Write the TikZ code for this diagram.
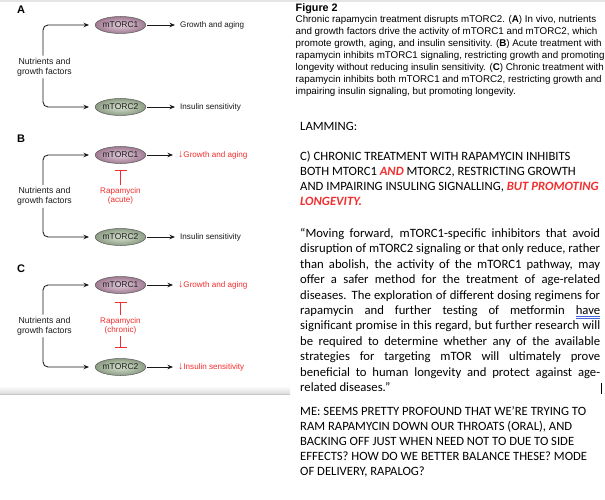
\documentclass[tikz,border=0pt]{standalone}
\usepackage{fontspec}
\setmainfont{Liberation Sans}
\newfontfamily\calib{Carlito}
\usetikzlibrary{arrows.meta,shapes.geometric,calc}
\definecolor{rred}{RGB}{242,45,45}
\definecolor{ulblue}{RGB}{70,100,220}
\definecolor{pinkin}{RGB}{226,206,219}
\definecolor{pinkout}{RGB}{160,122,146}
\definecolor{greenin}{RGB}{216,225,208}
\definecolor{greenout}{RGB}{140,157,132}
\newlength\fitw
\newcommand\fitsize[4]{\setbox0\hbox{#2\fontsize{10pt}{12pt}\selectfont #3}\fitw=\wd0\relax\pgfmathsetmacro#1{10*#4/\fitw}}
\AtBeginDocument{%
\fitsize{\capsz}{\relax}{promote growth, aging, and insulin sensitivity. (\textbf{B}) Acute treatment with}{306}%
\fitsize{\rsz}{\calib}{ME: SEEMS PRETTY PROFOUND THAT WE’RE TRYING TO}{286}%
\fitsize{\qsz}{\calib}{significant promise in this regard, but further research will}{298}%
}
\newcommand\labfont{\fontsize{8.1pt}{9pt}\selectfont}
\newcommand\nutfont{\fontsize{8.7pt}{10pt}\selectfont}
\newcommand\torfont{\fontsize{8.5pt}{9pt}\selectfont}
\newcommand\capfont{\fontsize{\capsz pt}{12pt}\selectfont}
\newcommand\rfont{\calib\fontsize{\rsz pt}{15pt}\selectfont}
\newcommand\qfont{\calib\fontsize{\qsz pt}{15pt}\selectfont}
\newcommand\dn{{\fontsize{10.5pt}{10pt}\selectfont ↓}}
\newcommand\gramul[1]{\setbox2\hbox{#1}\rlap{\color{ulblue}\rule[-2.2pt]{\wd2}{0.5pt}\hspace*{-\wd2}\rule[-3.5pt]{\wd2}{0.5pt}}\box2}
\newcommand\redit[1]{\textcolor{rred}{\bfseries\itshape #1}}
\tikzset{
  panel/.style={font=\fontsize{11pt}{12pt}\selectfont\bfseries, inner sep=0pt},
  lbl/.style={font=\labfont, inner sep=0pt, anchor=west, text=black!90},
  rlbl/.style={font=\labfont, inner sep=0pt, anchor=west, text=rred},
  nut/.style={font=\nutfont, align=center, inner sep=2pt, text=black!90},
  rap/.style={font=\labfont, align=center, inner sep=2.5pt, text=rred},
  tor1/.style={ellipse, minimum width=45pt, minimum height=17pt, inner sep=0pt,
    draw=black!65, line width=0.5pt, inner color=pinkin, outer color=pinkout,
    font=\torfont, text=black!88},
  tor2/.style={tor1, inner color=greenin, outer color=greenout},
  arr/.style={-{Stealth[length=5.5pt,width=4.5pt]}, line width=0.85pt, black!90},
  feed/.style={arr, rounded corners=5pt, shorten >=6pt},
  outarr/.style={arr, shorten >=5pt, shorten <=1pt},
  inh/.style={-{Bar[width=12pt,line width=1pt]}, line width=0.9pt, rred},
  capline/.style={anchor=base west, inner sep=0pt, font=\capfont},
  rline/.style={anchor=base west, inner sep=0pt, font=\rfont},
  qline/.style={anchor=base west, inner sep=0pt, font=\qfont}
}
\begin{document}
\begin{tikzpicture}[x=1pt,y=-1pt]
\useasboundingbox (0,0) rectangle (605,500);
\fill[white] (0,0) rectangle (605,500);
\fill[black!10] (0,0) rectangle (605,2.5);
% bottom shadow of figure panel
\shade[top color=white, bottom color=black!14] (0,386) rectangle (290,394);
\draw[black!22, line width=1pt] (0,394.5) -- (290,394.5);

% ---------- Panel A ----------
\node[panel] (lA) at (21,10) {A};
\node[tor1] (m1A) at (120.5,25) {mTORC1};
\node[tor2] (m2A) at (120.5,107) {mTORC2};
\node[nut] (nA) at (44.5,67) {Nutrients and\\growth factors};
\node[lbl] (gA) at (180,25) {Growth and aging};
\node[lbl] (iA) at (180,107) {Insulin sensitivity};
\draw[feed] ($(nA.north)+(-1.5,0)$) |- (m1A.west);
\draw[feed] ($(nA.south)+(-1.5,0)$) |- (m2A.west);
\draw[outarr] (m1A.east) -- (gA.west);
\draw[outarr] (m2A.east) -- (iA.west);

% ---------- Panel B ----------
\node[panel] (lB) at (21,139) {B};
\node[tor1] (m1B) at (120.5,155) {mTORC1};
\node[tor2] (m2B) at (120.5,237) {mTORC2};
\node[nut] (nB) at (44.5,196.5) {Nutrients and\\growth factors};
\node[rap] (rB) at (120.5,196) {Rapamycin\\(acute)};
\node[rlbl] (gB) at (178,155) {\dn Growth and aging};
\node[lbl] (iB) at (180,237) {Insulin sensitivity};
\draw[feed] ($(nB.north)+(-1.5,0)$) |- (m1B.west);
\draw[feed] ($(nB.south)+(-1.5,0)$) |- (m2B.west);
\draw[outarr] (m1B.east) -- (gB.west);
\draw[outarr] (m2B.east) -- (iB.west);
\draw[inh] (rB.north) -- ($(m1B.south)+(0,6.5)$);

% ---------- Panel C ----------
\node[panel] (lC) at (21,269) {C};
\node[tor1] (m1C) at (120.5,285) {mTORC1};
\node[tor2] (m2C) at (120.5,367) {mTORC2};
\node[nut] (nC) at (44.5,326) {Nutrients and\\growth factors};
\node[rap] (rC) at (120.5,325.5) {Rapamycin\\(chronic)};
\node[rlbl] (gC) at (178,285) {\dn Growth and aging};
\node[rlbl] (iC) at (178,367) {\dn Insulin sensitivity};
\draw[feed] ($(nC.north)+(-1.5,0)$) |- (m1C.west);
\draw[feed] ($(nC.south)+(-1.5,0)$) |- (m2C.west);
\draw[outarr] (m1C.east) -- (gC.west);
\draw[outarr] (m2C.east) -- (iC.west);
\draw[inh] (rC.north) -- ($(m1C.south)+(0,8.5)$);
\draw[inh] (rC.south) -- ($(m2C.north)+(0,-10)$);

% ---------- Caption ----------
\node[anchor=base west, inner sep=0pt, font=\fontsize{10.8pt}{12pt}\selectfont\bfseries] (fig) at (295.5,11.5) {Figure 2};
\node[capline] (c1) at (295.5,22.5) {Chronic rapamycin treatment disrupts mTORC2. (\textbf{A}) In vivo, nutrients};
\node[capline] (c2) at (295.5,34.5) {and growth factors drive the activity of mTORC1 and mTORC2, which};
\node[capline] (c3) at (295.5,46.5) {promote growth, aging, and insulin sensitivity. (\textbf{B}) Acute treatment with};
\node[capline] (c4) at (295.5,58.5) {rapamycin inhibits mTORC1 signaling, restricting growth and promoting};
\node[capline] (c5) at (295.5,70.5) {longevity without reducing insulin sensitivity. (\textbf{C}) Chronic treatment with};
\node[capline] (c6) at (295.5,82.5) {rapamycin inhibits both mTORC1 and mTORC2, restricting growth and};
\node[capline] (c7) at (295.5,94.5) {impairing insulin signaling, but promoting longevity.};

% ---------- Notes ----------
\node[rline] (lam) at (300,130.5) {LAMMING:};
\node[rline] (r1) at (300,160.5) {C) CHRONIC TREATMENT WITH RAPAMYCIN INHIBITS};
\node[rline] (r2) at (300,175.5) {BOTH MTORC1 \redit{AND} MTORC2, RESTRICTING GROWTH};
\node[rline] (r3) at (300,190.5) {AND IMPAIRING INSULING SIGNALLING, \redit{BUT PROMOTING}};
\node[rline] (r4) at (300,205.5) {\redit{LONGEVITY.}};

\node[qline] (q1) at (300,237.5) {\hbox to 300pt{“Moving forward, mTORC1-specific inhibitors that avoid}};
\node[qline] (q2) at (300,252.9) {\hbox to 300pt{disruption of mTORC2 signaling or that only reduce, rather}};
\node[qline] (q3) at (300,268.3) {\hbox to 300pt{than abolish, the activity of the mTORC1 pathway, may}};
\node[qline] (q4) at (300,283.7) {\hbox to 300pt{offer a safer method for the treatment of age-related}};
\node[qline] (q5) at (300,299.1) {\hbox to 300pt{diseases. The exploration of different dosing regimens for}};
\node[qline] (q6) at (300,314.5) {\hbox to 300pt{rapamycin and further testing of metformin \gramul{have}}};
\node[qline] (q7) at (300,329.9) {\hbox to 300pt{significant promise in this regard, but further research will}};
\node[qline] (q8) at (300,345.3) {\hbox to 300pt{be required to determine whether any of the available}};
\node[qline] (q9) at (300,360.7) {\hbox to 300pt{strategies for targeting mTOR will ultimately prove}};
\node[qline] (q10) at (300,376.1) {\hbox to 300pt{beneficial to human longevity and protect against age-}};
\node[qline] (q11) at (300,391.5) {related diseases.”};
\coordinate (curtop) at (601,383);
\coordinate (curbot) at (601,394);
\draw[black, line width=0.7pt] (curtop) -- (curbot);

\node[rline] (me1) at (300,415.5) {ME: SEEMS PRETTY PROFOUND THAT WE’RE TRYING TO};
\node[rline] (me2) at (300,430.5) {RAM RAPAMYCIN DOWN OUR THROATS (ORAL), AND};
\node[rline] (me3) at (300,445.5) {BACKING OFF JUST WHEN NEED NOT TO DUE TO SIDE};
\node[rline] (me4) at (300,460.5) {EFFECTS? HOW DO WE BETTER BALANCE THESE? MODE};
\node[rline] (me5) at (300,475.5) {OF DELIVERY, RAPALOG?};
\end{tikzpicture}
\end{document}
